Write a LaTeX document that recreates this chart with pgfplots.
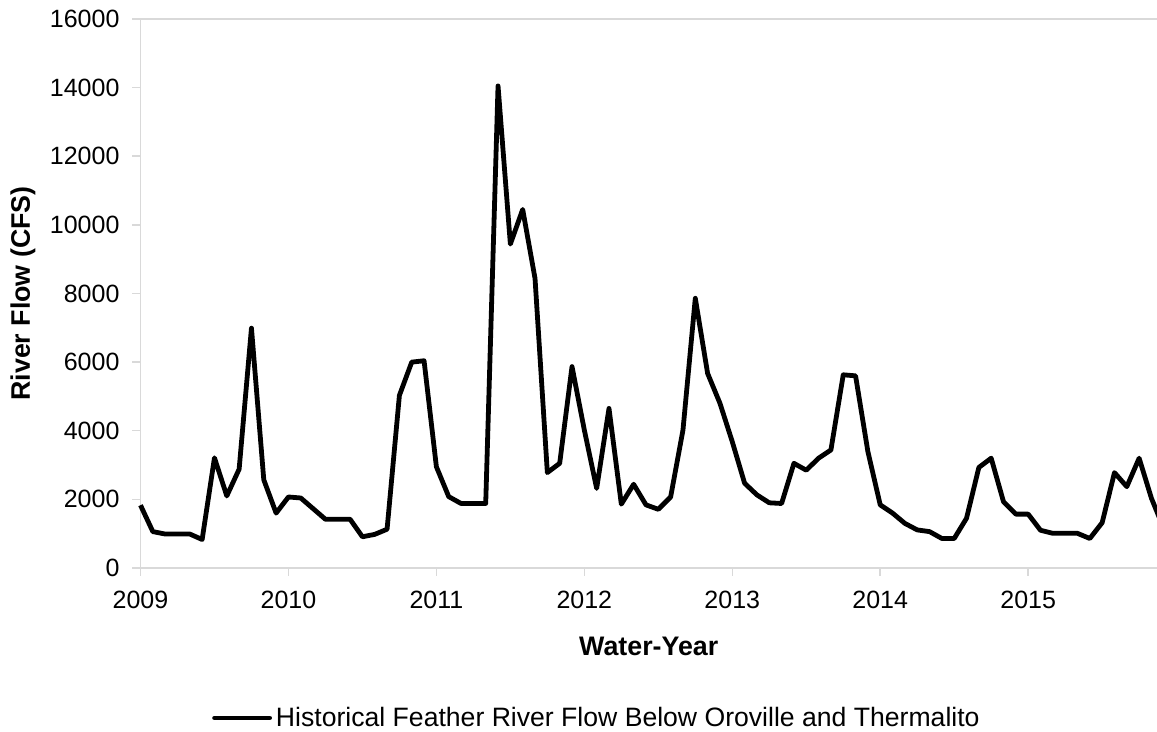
\documentclass[border=0pt]{standalone}
\usepackage{fontspec}
\setmainfont{Liberation Sans}
\usepackage{pgfplots}
\pgfplotsset{compat=1.18}
\definecolor{axgray}{HTML}{D9D9D9}

\begin{document}
\begin{tikzpicture}
\begin{axis}[
    at={(0,0)}, anchor=south west,
    scale only axis,
    width=508.25pt, height=274.5pt,
    xmin=0, xmax=82.45,
    ymin=0, ymax=16000,
    clip=false,
    axis x line=bottom, axis y line=left,
    axis line style={axgray, line width=0.75pt, -},
    xtick={0,12,...,72},
    xticklabels={2009,2010,2011,2012,2013,2014,2015},
    ytick={0,2000,...,16000},
    extra y ticks={16000}, extra y tick labels={},
    extra y tick style={grid=major, major grid style={axgray, line width=0.75pt}},
    tick align=outside, major tick length=4pt,
    tick style={axgray, line width=0.75pt},
    scaled y ticks=false,
    /pgf/number format/1000 sep={},
    /pgf/number format/assume math mode=true,
    tick label style={font=\fontsize{12.5}{15}\selectfont, text=black},
    xticklabel style={yshift=-4pt},
    yticklabel style={xshift=-3pt},
    xlabel={Water-Year},
    ylabel={River Flow (CFS)},
    xlabel style={font=\fontsize{13.4}{16}\selectfont\bfseries,
        at={(axis description cs:0.5,0)}, anchor=center, yshift=-39pt},
    ylabel style={font=\fontsize{13.4}{16}\selectfont\bfseries,
        at={(axis description cs:0,0.5)}, anchor=center, yshift=58.75pt},
    legend style={draw=none, fill=none, at={(axis description cs:0.45,-0.2732)},
        anchor=center, font=\fontsize{13.3}{16}\selectfont},
    legend image code/.code={\draw[#1, line cap=round] (0pt,0pt) -- (27.5pt,0pt);},
]
% monthly flow, month 0 = start of 2009
\addplot[black, line width=2.4pt, line join=round] coordinates {
    (0,1830) (1,1060) (2,990) (3,990) (4,990) (5,830) (6,3210) (7,2100)
    (8,2880) (9,6990) (10,2570) (11,1600) (12,2070) (13,2040) (14,1730)
    (15,1420) (16,1420) (17,1420) (18,910) (19,980) (20,1130) (21,5030)
    (22,6000) (23,6040) (24,2950) (25,2080) (26,1880) (27,1880) (28,1880)
    (29,14050) (30,9440) (31,10450) (32,8440) (33,2780) (34,3050) (35,5870)
    (36,4020) (37,2320) (38,4650) (39,1860) (40,2440) (41,1840) (42,1710)
    (43,2070) (44,4020) (45,7860) (46,5670) (47,4800) (48,3680) (49,2470)
    (50,2130) (51,1900) (52,1880) (53,3050) (54,2850) (55,3200) (56,3440)
    (57,5630) (58,5600) (59,3390) (60,1840) (61,1600) (62,1300) (63,1110)
    (64,1060) (65,860) (66,860) (67,1450) (68,2930) (69,3200) (70,1930)
    (71,1570) (72,1570) (73,1100) (74,1010) (75,1010) (76,1010) (77,860)
    (78,1320) (79,2780) (80,2370) (81,3200) (82,2030) (83,1150)
};
\addlegendentry{Historical Feather River Flow Below Oroville and Thermalito}
\end{axis}
\pgfresetboundingbox
\path[use as bounding box] (-70.25pt,-82pt) rectangle (508.25pt,284pt);
\end{tikzpicture}
\end{document}
